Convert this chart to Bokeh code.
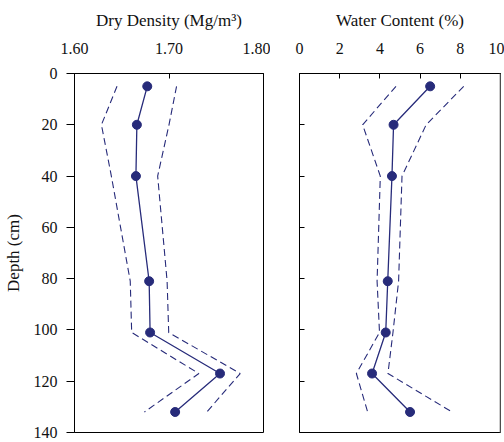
from bokeh.plotting import figure
from bokeh.layouts import row
from bokeh.models import Range1d, FixedTicker, Span
from bokeh.embed import file_html
from bokeh.resources import INLINE

# ---- data ----
depth = [5, 20, 40, 81, 101, 117, 132]

density_mean = [1.677, 1.666, 1.665, 1.679, 1.680, 1.754, 1.7065]
density_low = [1.645, 1.6285, 1.639, 1.659, 1.6605, 1.7316, 1.674]
density_high = [1.708, 1.700, 1.688, 1.698, 1.6997, 1.7753, 1.740]

water_mean = [6.50, 4.68, 4.60, 4.39, 4.29, 3.61, 5.50]
water_low = [4.80, 3.14, 4.02, 3.86, 3.98, 2.83, 3.39]
water_high = [8.17, 6.30, 5.10, 4.93, 4.65, 4.40, 7.59]

density_ticks = [1.60, 1.70, 1.80]
density_labels = {1.6: "1.60", 1.7: "1.70", 1.8: "1.80"}
water_ticks = [0, 2, 4, 6, 8, 10]
depth_ticks = [0, 20, 40, 60, 80, 100, 120, 140]

NAVY = "#272b7a"
FONT = "Liberation Serif"
TXT = "#111111"


def style(p):
    p.outline_line_color = "black"
    p.outline_line_width = 1
    p.xgrid.visible = False
    p.ygrid.visible = False
    p.background_fill_color = "white"
    p.border_fill_color = "white"
    for ax in p.axis:
        ax.axis_label_text_font = FONT
        ax.axis_label_text_font_style = "normal"
        ax.axis_label_text_font_size = "17px"
        ax.axis_label_text_color = TXT
        ax.major_label_text_font = FONT
        ax.major_label_text_font_size = "16px"
        ax.major_label_text_color = TXT
        ax.minor_tick_line_color = None
        ax.axis_line_color = "black"
        ax.major_tick_line_color = "black"


# ---- left panel: dry density ----
p1 = figure(width=270, height=442, output_backend="svg", toolbar_location=None,
            x_axis_location="above",
            x_range=Range1d(1.60, 1.80), y_range=Range1d(140, 0),
            min_border_left=69, min_border_right=7, min_border_top=73, min_border_bottom=10)
p1.line(density_low, depth, line_color=NAVY, line_width=1.1, line_dash="7 4")
p1.line(density_high, depth, line_color=NAVY, line_width=1.1, line_dash="7 4")
p1.line(density_mean, depth, line_color=NAVY, line_width=1.3)
p1.scatter(density_mean, depth, size=9, fill_color=NAVY, line_color=NAVY)
p1.xaxis.ticker = FixedTicker(ticks=density_ticks)
p1.xaxis.major_label_overrides = density_labels
p1.xaxis.axis_label = "Dry Density (Mg/m³)"
p1.yaxis.ticker = FixedTicker(ticks=depth_ticks)
p1.yaxis.axis_label = "Depth (cm)"
style(p1)
p1.xaxis.major_tick_in = 5
p1.xaxis.major_tick_out = 0
p1.xaxis.major_label_standoff = 20
p1.xaxis.axis_label_standoff = 10
p1.yaxis.major_tick_in = 0
p1.yaxis.major_tick_out = 8
p1.yaxis.major_label_standoff = 9
p1.yaxis.axis_label_standoff = 8

# ---- right panel: water content ----
p2 = figure(width=234, height=442, output_backend="svg", toolbar_location=None,
            x_axis_location="above",
            x_range=Range1d(0, 10), y_range=Range1d(140, 0),
            min_border_left=29, min_border_right=4, min_border_top=73, min_border_bottom=10)
p2.line(water_low, depth, line_color=NAVY, line_width=1.1, line_dash="7 4")
p2.line(water_high, depth, line_color=NAVY, line_width=1.1, line_dash="7 4")
p2.line(water_mean, depth, line_color=NAVY, line_width=1.3)
p2.scatter(water_mean, depth, size=9, fill_color=NAVY, line_color=NAVY)
p2.xaxis.ticker = FixedTicker(ticks=water_ticks)
p2.xaxis.axis_label = "Water Content (%)"
p2.yaxis.ticker = FixedTicker(ticks=depth_ticks)
p2.yaxis.major_label_overrides = {t: "" for t in depth_ticks}
style(p2)
p2.xaxis.major_tick_in = 5
p2.xaxis.major_tick_out = 0
p2.xaxis.major_label_standoff = 20
p2.xaxis.axis_label_standoff = 10
p2.yaxis.major_tick_in = 5
p2.yaxis.major_tick_out = 0
p2.yaxis.major_label_standoff = 0
p2.add_layout(Span(location=10, dimension="height", line_color="#9a9a9a", line_width=2))

layout = row(p1, p2)
open("out.html", "w").write(file_html(layout, INLINE))
